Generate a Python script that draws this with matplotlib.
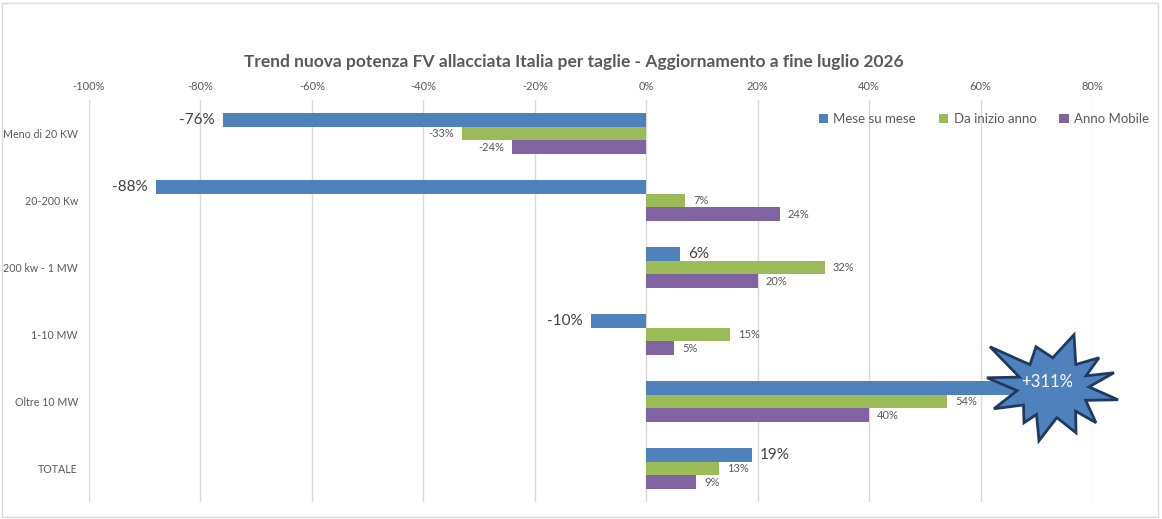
import numpy as np
import matplotlib
matplotlib.use('Agg')
import matplotlib.pyplot as plt
import matplotlib.transforms as mtransforms
from matplotlib.patches import Polygon, Rectangle
from matplotlib.ticker import FuncFormatter

plt.rcParams['font.family'] = ['Lato', 'DejaVu Sans']

# Data (values in %)
categories = ['Meno di 20 KW', '20-200 Kw', '200 kw - 1 MW', '1-10 MW', 'Oltre 10 MW', 'TOTALE']
series_names = ['Mese su mese', 'Da inizio anno', 'Anno Mobile']
mese_su_mese = [-76, -88, 6, -10, 311, 19]
da_inizio_anno = [-33, 7, 32, 15, 54, 13]
anno_mobile = [-24, 24, 20, 5, 40, 9]
colors = ['#4F81BD', '#9BBB59', '#8064A2']

title = 'Trend nuova potenza FV allacciata Italia per taglie - Aggiornamento a fine luglio 2026'
x_min, x_max = -100, 80

fig = plt.figure(figsize=(11.62, 5.19), dpi=100)
ax = fig.add_axes([89 / 1162, 17 / 519, (1092 - 89) / 1162, (502 - 100) / 519])

y = np.arange(len(categories))
bar_h = 0.205
all_series = [mese_su_mese, da_inizio_anno, anno_mobile]
for i, (vals, name, col) in enumerate(zip(all_series, series_names, colors)):
    ypos = y + (i - 1) * bar_h
    ax.barh(ypos, vals, height=bar_h, color=col, label=name, zorder=2)
    big = (i == 0)
    for yy, v in zip(ypos, vals):
        if v > x_max:
            continue  # shown in the starburst instead
        off = 8 if v >= 0 else -8
        ax.annotate(f'{v}%', (v, yy), xytext=(off, 0), textcoords='offset pixels',
                    ha='left' if v >= 0 else 'right', va='center',
                    fontsize=11 if big else 8, color='#404040' if big else '#595959')

ax.set_xlim(x_min, x_max)
ax.set_ylim(len(categories) - 0.5, -0.5)
ax.set_xticks(np.arange(-100, 81, 20))
ax.xaxis.set_major_formatter(FuncFormatter(lambda v, p: f'{v:.0f}%'))
ax.xaxis.tick_top()
ax.tick_params(axis='x', length=0, pad=6, labelsize=8, labelcolor='#595959')
ax.set_yticks(y)
ax.set_yticklabels(categories)
ax.tick_params(axis='y', length=0, pad=8, labelsize=7.7, labelcolor='#595959')
ax.grid(axis='x', color='#D9D9D9', linewidth=1, zorder=0)
ax.set_axisbelow(True)
for s in ax.spines.values():
    s.set_visible(False)

handles, labels = ax.get_legend_handles_labels()
fig.legend(handles, labels, loc='upper right', bbox_to_anchor=(1149 / 1162, 1 - 113 / 519), ncol=3,
           frameon=False, fontsize=9.5, handlelength=0.7, handleheight=0.7, handletextpad=0.4,
           columnspacing=1.75, labelcolor='#595959', borderaxespad=0, borderpad=0)

fig.text(0.494, 1 - 62 / 519, title, ha='center', va='center', fontsize=12.5,
         fontweight='bold', color='#595959')

# starburst callout on the clipped 311% bar
tips = [(-63, -41), (-17, -41), (21, -53), (46, -30), (61, -15), (65, 12),
        (43, 35), (23, 45), (-14, 53), (-29, 35), (-59, 21), (-66, -10)]
verts = []
n = len(tips)
for k in range(n):
    a = np.array(tips[k], float)
    b = np.array(tips[(k + 1) % n], float)
    verts.append(a)
    mid = (a / np.hypot(*a) + b / np.hypot(*b))
    mid = mid / np.hypot(*mid)
    verts.append(mid * np.array([36, 30]))
verts = np.array(verts)
verts[:, 1] = -verts[:, 1]
verts = verts / 100.0
star_trans = fig.dpi_scale_trans + mtransforms.ScaledTranslation(73, y[4] - bar_h, ax.transData)
star = Polygon(verts, closed=True, facecolor='#4F81BD', edgecolor='#1F3A5F', linewidth=2,
               transform=star_trans, zorder=5, clip_on=False)
ax.add_patch(star)
ax.text(72, y[4] - bar_h - 0.08, f'+{mese_su_mese[4]}%', ha='center', va='center', color='white',
        fontsize=12, zorder=6)

fig.patches.append(Rectangle((2 / 1162, 2 / 519), 1156 / 1162, 514 / 519, transform=fig.transFigure,
                             fill=False, edgecolor='#D9D9D9', linewidth=1))

fig.savefig('out.png', dpi=100)
